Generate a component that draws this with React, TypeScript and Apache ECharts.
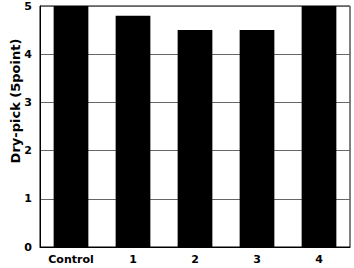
import React, { useEffect, useRef } from "react";
import * as echarts from "echarts";

const categories = ["Control", "1", "2", "3", "4"];
const values = [5, 4.8, 4.5, 4.5, 5];
const yName = "Dry-pick (5point)";

const FONT = "DejaVu Sans, Arial, sans-serif";

export default function App() {
  const ref = useRef<HTMLDivElement>(null);
  useEffect(() => {
    const chart = echarts.init(ref.current!, null, { renderer: "svg" });
    chart.setOption({
      animation: false,
      backgroundColor: "#fff",
      grid: {
        left: 40,
        right: 4,
        top: 6,
        bottom: 21,
        show: true,
        borderColor: "#000",
        borderWidth: 1,
        containLabel: false,
      },
      graphic: [
        {
          type: "text",
          x: 15,
          y: 101,
          rotation: Math.PI / 2,
          style: {
            text: yName,
            fill: "#000",
            font: `bold 13px ${FONT}`,
            align: "center",
            verticalAlign: "middle",
          },
        },
      ],
      xAxis: {
        type: "category",
        data: categories,
        axisLine: { show: true, lineStyle: { color: "#000", width: 1 } },
        axisTick: { show: false },
        axisLabel: {
          color: "#000",
          fontFamily: FONT,
          fontWeight: "bold",
          fontSize: 11,
          margin: 7,
        },
      },
      yAxis: {
        type: "value",
        min: 0,
        max: 5,
        interval: 1,
        axisLine: { show: true, lineStyle: { color: "#000", width: 1 } },
        axisTick: { show: false },
        splitLine: { show: true, lineStyle: { color: "#666", width: 1 } },
        axisLabel: {
          color: "#000",
          fontFamily: FONT,
          fontWeight: "bold",
          fontSize: 11,
          margin: 8,
        },
      },
      series: [
        {
          type: "bar",
          data: values,
          barWidth: "56%",
          itemStyle: { color: "#000" },
        },
      ],
    });
    return () => chart.dispose();
  }, []);
  return (
    <div
      ref={ref}
      style={{ position: "fixed", left: 0, top: 0, width: 354, height: 268 }}
    />
  );
}
